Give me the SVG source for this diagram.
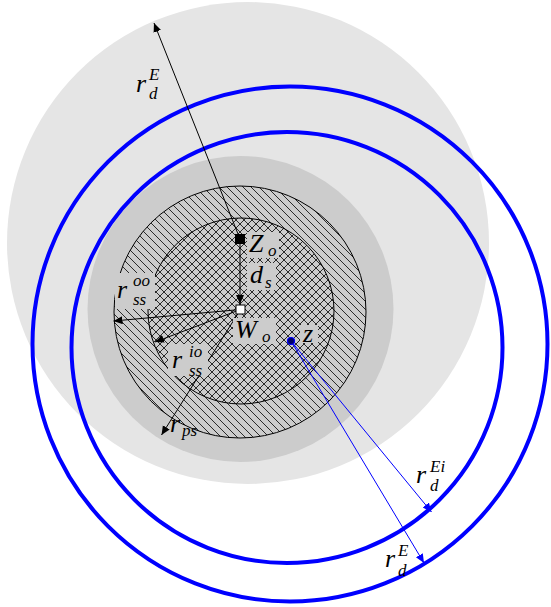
<svg xmlns="http://www.w3.org/2000/svg" width="551" height="607" viewBox="0 0 551 607">
<style>
.m{font-family:"Liberation Serif","Times New Roman",serif;font-style:italic;font-size:26px;fill:#000}
.s{font-size:17px}
.bg{fill:#cccccc}
.ln{stroke:#000;stroke-width:1;fill:none}
.bl{stroke:#0000ff;stroke-width:1;fill:none}
.blc{stroke:#0000ff;stroke-width:4;fill:none}
</style>
<defs>
<pattern id="nw" patternUnits="userSpaceOnUse" width="8" height="8">
<rect width="8" height="8" fill="#cccccc"/>
<path d="M-1,-1 L9,9 M-1,7 L1,9 M7,-1 L9,1" stroke="#000" stroke-width="0.8"/>
</pattern>
<pattern id="cross" patternUnits="userSpaceOnUse" width="8" height="8">
<rect width="8" height="8" fill="#cccccc"/>
<path d="M-1,-1 L9,9 M-1,7 L1,9 M7,-1 L9,1 M-1,9 L9,-1 M-1,1 L1,-1 M7,9 L9,7" stroke="#000" stroke-width="0.8"/>
</pattern>
<marker id="ak" markerUnits="userSpaceOnUse" markerWidth="10" markerHeight="10" refX="9" refY="4" orient="auto">
<path d="M0,0 L9,4 L0,8 Z" fill="#000"/>
</marker>
<marker id="ab" markerUnits="userSpaceOnUse" markerWidth="10" markerHeight="10" refX="9" refY="4" orient="auto">
<path d="M0,0 L9,4 L0,8 Z" fill="#0000ff"/>
</marker>
</defs>

<g id="regions">
<circle id="light" cx="248" cy="243" r="241" fill="#e5e5e5"/>
<circle id="medium" cx="240.5" cy="309" r="153" fill="#cccccc"/>
<circle id="ring" cx="240" cy="312" r="126" fill="url(#nw)" stroke="#000" stroke-width="1"/>
<circle id="core" cx="241" cy="311" r="93" fill="url(#cross)" stroke="#000" stroke-width="1"/>
<circle id="blue-inner" class="blc" cx="287" cy="347.5" r="215.5"/>
<circle id="blue-outer" class="blc" cx="290" cy="344" r="257.5"/>
</g>

<g id="connectors">
<line class="ln" x1="240" y1="239" x2="154" y2="23" marker-end="url(#ak)"/>
<line class="ln" x1="240" y1="244" x2="240" y2="304" marker-end="url(#ak)"/>
<line class="ln" x1="240.5" y1="309.5" x2="113.5" y2="321" marker-end="url(#ak)"/>
<line class="ln" x1="240.5" y1="309.5" x2="155" y2="342" marker-end="url(#ak)"/>
<line class="ln" x1="240.5" y1="309.5" x2="161.5" y2="435" marker-end="url(#ak)"/>
<line class="bl" x1="291" y1="341" x2="431.5" y2="512" marker-end="url(#ab)"/>
<line class="bl" x1="291" y1="341" x2="424" y2="563" marker-end="url(#ab)"/>
</g>

<g id="Zo">
<rect x="235" y="234" width="10" height="10" fill="#000"/>
<rect class="bg" x="247" y="232" width="32" height="26"/>
<text class="m" x="249" y="252">Z<tspan class="s" x="268" y="256">o</tspan></text>
</g>
<g id="ds">
<rect class="bg" x="247" y="263" width="29" height="27"/>
<text class="m" x="250" y="283">d<tspan class="s" x="265" y="288">s</tspan></text>
</g>
<g id="Wo">
<rect x="236" y="305" width="9" height="9" fill="#fff" stroke="#000" stroke-width="1"/>
<rect class="bg" x="233" y="318" width="43" height="26"/>
<text class="m" x="235" y="338">W<tspan class="s" x="262" y="342">o</tspan></text>
</g>
<g id="z">
<rect class="bg" x="300" y="325" width="18" height="18"/>
<circle cx="291" cy="341" r="3.5" fill="#000066" stroke="#0000ff" stroke-width="1.2"/>
<text class="m" x="303" y="342">z</text>
</g>
<g id="rssoo">
<rect class="bg" x="115" y="273" width="40" height="36"/>
<text class="m" x="117" y="298">r<tspan class="s" x="133" y="286">oo</tspan><tspan class="s" x="133" y="305">ss</tspan></text>
</g>
<g id="rssio">
<rect class="bg" x="168" y="344" width="40" height="32"/>
<text class="m" x="172" y="368">r<tspan class="s" x="189" y="357">io</tspan><tspan class="s" x="189" y="376">ss</tspan></text>
</g>
<g id="rps">
<text class="m" x="170" y="432">r<tspan class="s" x="182" y="436">ps</tspan></text>
</g>
<g id="rdE-top">
<text class="m" x="136" y="92">r<tspan class="s" x="149" y="80">E</tspan><tspan class="s" x="149" y="99">d</tspan></text>
</g>
<g id="rdEi">
<text class="m" x="416" y="483">r<tspan class="s" x="430" y="472">Ei</tspan><tspan class="s" x="430" y="491">d</tspan></text>
</g>
<g id="rdE-bottom">
<text class="m" x="385" y="567">r<tspan class="s" x="398" y="556">E</tspan><tspan class="s" x="398" y="576">d</tspan></text>
</g>
</svg>
